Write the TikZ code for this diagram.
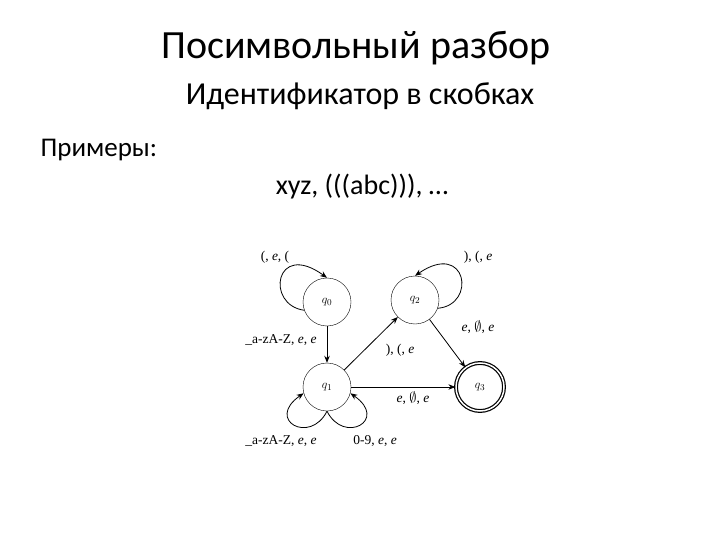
\documentclass[tikz,border=0pt]{standalone}
\usepackage{fontspec}
\setmainfont{Carlito}
\newfontfamily\lbl{Liberation Serif}
\usetikzlibrary{arrows.meta}
\begin{document}
\begin{tikzpicture}[x=1pt,y=-1pt,
  st/.style={circle,draw,minimum size=48pt,inner sep=0pt,font=\lbl\fontsize{13}{13}\selectfont},
  lb/.style={font=\lbl\fontsize{13.5}{14}\selectfont,inner sep=1pt},
  ar/.style={-{Stealth[length=7pt,width=5.5pt]},thick}]
\useasboundingbox (0,0) rectangle (720,540);
\node (t1) at (356,48) {\fontsize{40}{44}\selectfont Посимвольный разбор};
\node (t2) at (360,96) {\fontsize{32}{36}\selectfont Идентификатор в скобках};
\node[anchor=west] (t3) at (37,150) {\fontsize{27}{30}\selectfont Примеры:};
\node (t4) at (362,187) {\fontsize{28}{30}\selectfont xyz, (((abc))), …};
\node[st] (q0) at (327,302) {$q_0$};
\node[st] (q2) at (415,300) {$q_2$};
\node[st] (q1) at (327,387) {$q_1$};
\node[st,double,double distance=1.5pt,very thick] (q3) at (480,387) {$q_3$};
\draw[ar] (q0.200) .. controls (265,305) and (275,240) .. (q0.90);
\draw[ar] (q2.-20) .. controls (477,305) and (467,240) .. (q2.90);
\draw[ar] (q0) -- (q1);
\draw[ar] (q1) -- (q2);
\draw[ar] (q2) -- (q3);
\draw[ar] (q1) -- (q3);
\draw[ar] (q1.270) .. controls (310,445) and (265,420) .. (q1.195);
\draw[ar] (q1.270) .. controls (344,445) and (389,420) .. (q1.-15);
\node[lb] (l1) at (275,257) {(, \textit{e}, (};
\node[lb] (l2) at (478,257) {), (, \textit{e}};
\node[lb] (l3) at (281,340) {\_a-zA-Z, \textit{e}, \textit{e}};
\node[lb] (l4) at (400,350) {), (, \textit{e}};
\node[lb] (l5) at (478,327) {\textit{e}, $\emptyset$, \textit{e}};
\node[lb] (l6) at (413,398) {\textit{e}, $\emptyset$, \textit{e}};
\node[lb] (l7) at (281,441) {\_a-zA-Z, \textit{e}, \textit{e}};
\node[lb] (l8) at (375,441) {0-9, \textit{e}, \textit{e}};
\end{tikzpicture}
\end{document}
